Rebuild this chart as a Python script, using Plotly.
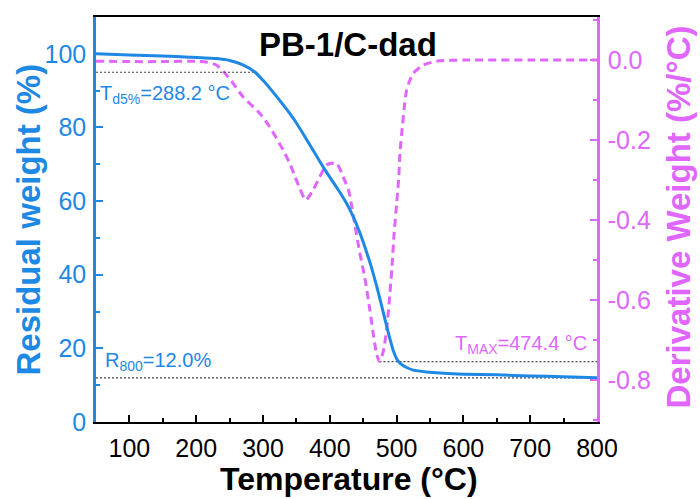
import plotly.graph_objects as go

# ---------------- data ----------------
temp_tga = [50, 100, 150, 190, 230, 250, 270, 288.2, 300, 315, 330, 340, 350, 365, 382, 390,
            400, 415, 425, 435, 445, 455, 462, 470, 477, 483, 490, 495, 500, 505, 515, 525,
            545, 565, 600, 650, 700, 750, 800]
weight = [100.0, 99.7, 99.4, 99.1, 98.7, 98.2, 97.0, 95.0, 92.8, 89.6, 86.2, 83.8, 81.2, 76.8,
          71.7, 69.3, 66.5, 62.4, 59.4, 55.8, 51.4, 46.2, 42.2, 37.0, 32.0, 27.6, 22.6, 19.4,
          17.2, 16.0, 14.8, 14.1, 13.6, 13.3, 13.0, 12.8, 12.5, 12.3, 12.0]

temp_dtg = [50, 100, 150, 200, 215, 230, 243, 255, 270, 295, 310, 330, 340, 348, 355, 364,
            375, 385, 395, 410, 420, 428, 433, 438, 445, 453, 460, 465, 470, 474.4, 480, 485,
            490, 493, 496, 500, 503, 505, 509, 512, 515, 520, 525, 540, 560, 600, 700, 800]
deriv = [-0.003, -0.004, -0.004, -0.003, -0.005, -0.0125, -0.033, -0.058, -0.092, -0.133,
         -0.167, -0.225, -0.258, -0.292, -0.321, -0.35, -0.325, -0.292, -0.2625, -0.258,
         -0.292, -0.325, -0.367, -0.417, -0.483, -0.55, -0.625, -0.683, -0.735, -0.754,
         -0.729, -0.675, -0.583, -0.52, -0.44, -0.36, -0.30, -0.233, -0.16, -0.11, -0.075,
         -0.05, -0.033, -0.0125, -0.003, 0.0, 0.0, 0.0]

t_d5 = 288.2
w_d5 = 95.0
r800 = 12.0
t_max = 474.4
dtg_min = -0.754
x_span = [50, 800]

x_ticks = [100, 200, 300, 400, 500, 600, 700, 800]
y_ticks = [0, 20, 40, 60, 80, 100]
y2_ticks = [0.0, -0.2, -0.4, -0.6, -0.8]
y2_labels = ["0.0", "-0.2", "-0.4", "-0.6", "-0.8"]

BLUE = "#1E88E5"
PINK = "#E066FF"
FONT = "Liberation Sans, Arial, sans-serif"

fig = go.Figure()

# dotted reference lines
fig.add_trace(go.Scatter(x=[x_span[0], t_d5], y=[w_d5, w_d5], mode="lines", yaxis="y2",
                         line=dict(color="#444", width=1.2, dash="2px,2px"), hoverinfo="skip"))
fig.add_trace(go.Scatter(x=x_span, y=[r800, r800], mode="lines", yaxis="y2",
                         line=dict(color="#444", width=1.2, dash="2px,2px"), hoverinfo="skip"))
fig.add_trace(go.Scatter(x=[t_max, x_span[1]], y=[dtg_min, dtg_min], mode="lines", yaxis="y",
                         line=dict(color="#444", width=1.2, dash="2px,2px"), hoverinfo="skip"))

# DTG (right axis, primary y so it sits below the TGA curve)
fig.add_trace(go.Scatter(x=temp_dtg, y=deriv, mode="lines", yaxis="y",
                         line=dict(color=PINK, width=3, dash="8px,5px", shape="spline", smoothing=0.6)))
# TGA (left axis)
fig.add_trace(go.Scatter(x=temp_tga, y=weight, mode="lines", yaxis="y2",
                         line=dict(color=BLUE, width=3, shape="spline", smoothing=0.6)))

tickfont = 25
fig.update_layout(
    width=700, height=499,
    margin=dict(l=96, r=103, t=17, b=77),
    paper_bgcolor="white", plot_bgcolor="white",
    showlegend=False,
    font=dict(family=FONT),
    xaxis=dict(range=x_span, tickvals=x_ticks, showline=True, linecolor="black", linewidth=2,
               mirror=True, ticks="inside", ticklen=7, tickwidth=2, tickcolor="black",
               showgrid=False, zeroline=False, tickfont=dict(size=tickfont, color="black"),
               ticklabelstandoff=3,
               minor=dict(ticks="inside", ticklen=4, tickwidth=2, tickcolor="black", dtick=50,
                          tick0=0, showgrid=False)),
    yaxis=dict(side="right", range=[-0.905, 0.1075], tickvals=y2_ticks, ticktext=y2_labels,
               showline=True, linecolor=PINK, linewidth=2.5, ticks="inside", ticklen=7,
               tickwidth=2, tickcolor=PINK, showgrid=False, zeroline=False,
               tickfont=dict(size=tickfont, color=PINK), ticklabelstandoff=3,
               minor=dict(ticks="inside", ticklen=4, tickwidth=2, tickcolor=PINK, dtick=0.1,
                          tick0=0, showgrid=False)),
    yaxis2=dict(side="left", overlaying="y", range=[0, 110], tickvals=y_ticks,
                showline=True, linecolor=BLUE, linewidth=2.5, ticks="inside", ticklen=7,
                tickwidth=2, tickcolor=BLUE, showgrid=False, zeroline=False,
                tickfont=dict(size=tickfont, color=BLUE), ticklabelstandoff=2,
                minor=dict(ticks="inside", ticklen=4, tickwidth=2, tickcolor=BLUE, dtick=10,
                           tick0=0, showgrid=False)),
)

ann = []
# axis titles
ann.append(dict(text="<b>Temperature (°C)</b>", xref="paper", yref="paper", x=0.505, y=0,
                yshift=-57, xanchor="center", yanchor="middle", showarrow=False,
                font=dict(size=32, color="black")))
ann.append(dict(text="<b>Residual weight (%)</b>", xref="paper", yref="paper", x=0, xshift=-68,
                y=0.5, xanchor="center", yanchor="middle", textangle=-90, showarrow=False,
                font=dict(size=33, color=BLUE)))
ann.append(dict(text="<b>Derivative Weight (%/°C)</b>", xref="paper", yref="paper", x=1,
                xshift=81, y=0.505, xanchor="center", yanchor="middle", textangle=-90,
                showarrow=False, font=dict(size=33, color=PINK)))
# chart title
ann.append(dict(text="<b>PB-1/C-dad</b>", xref="paper", yref="paper", x=0.503, y=1,
                yshift=-27, xanchor="center", yanchor="middle", showarrow=False,
                font=dict(size=33, color="black")))
# value labels
ann.append(dict(text="T<sub>d5%</sub>=288.2 °C", xref="x", yref="y2", x=x_span[0], xshift=2,
                y=w_d5, yshift=-22, xanchor="left", yanchor="middle", showarrow=False,
                font=dict(size=20, color=BLUE)))
ann.append(dict(text="R<sub>800</sub>=12.0%", xref="x", yref="y2", x=x_span[0], xshift=7,
                y=r800, yshift=16, xanchor="left", yanchor="middle", showarrow=False,
                font=dict(size=20, color=BLUE)))
ann.append(dict(text="T<sub>MAX</sub>=474.4 °C", xref="x", yref="y", x=x_span[1], xshift=-8,
                y=dtg_min, yshift=17, xanchor="right", yanchor="middle", showarrow=False,
                font=dict(size=20, color=PINK)))
fig.update_layout(annotations=ann)

fig.write_html("out.html")
